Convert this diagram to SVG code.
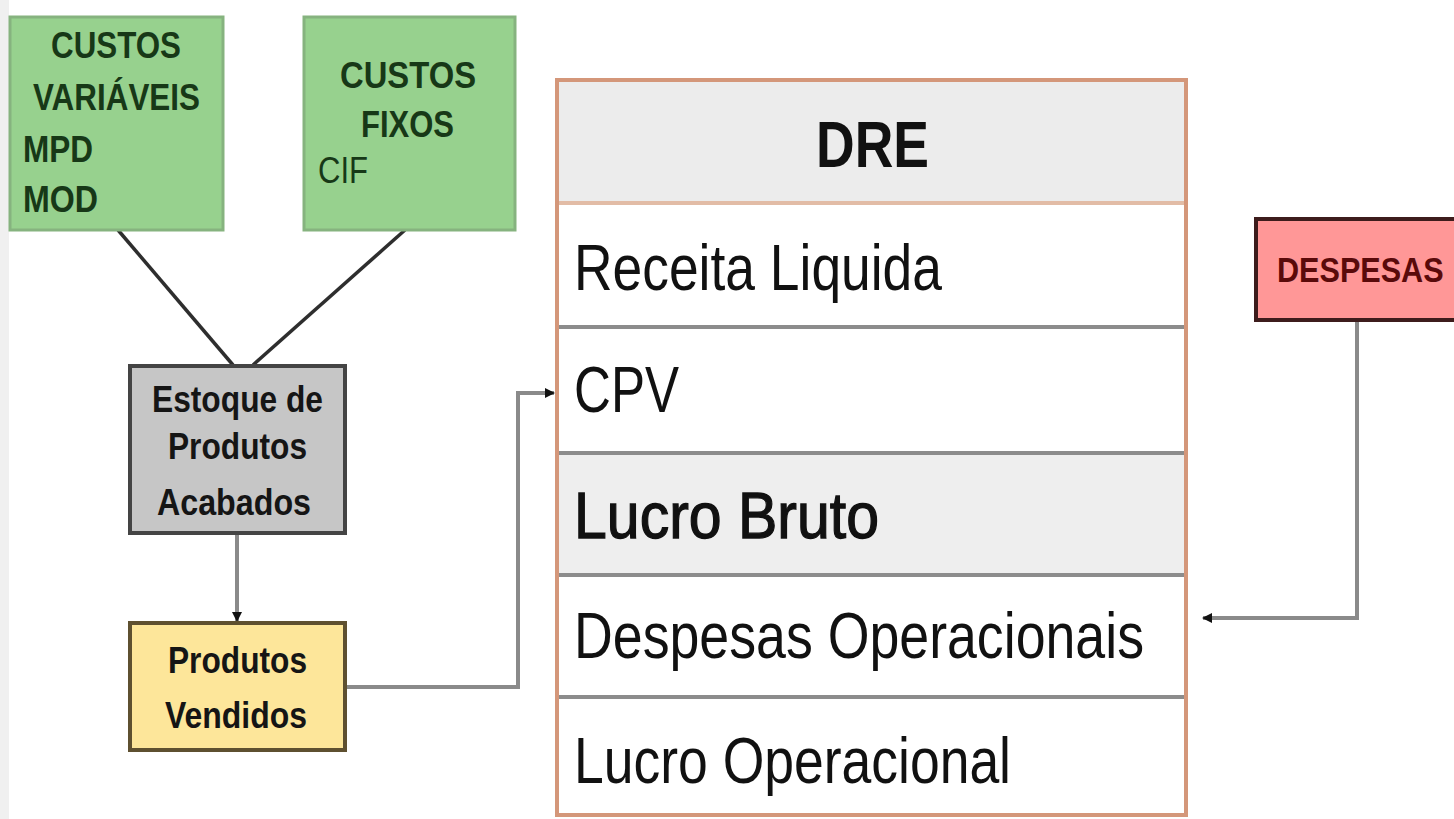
<svg xmlns="http://www.w3.org/2000/svg" width="1454" height="819" viewBox="0 0 1454 819">
<style>
.b{font-family:"Liberation Sans",Arial,sans-serif;font-weight:bold}
.r{font-family:"Liberation Sans",Arial,sans-serif}
.g{fill:#173817}
.k{fill:#151515}
.row{font-size:65px;fill:#111}
.conn{fill:none;stroke:#8a8a8a;stroke-width:4}
.diag{fill:none;stroke:#2e2e2e;stroke-width:3.5}
.sep{stroke:#8c8c8c;stroke-width:4}
</style>
<defs>
<marker id="ah" viewBox="0 0 10 10" refX="9" refY="5" markerWidth="10" markerHeight="10" markerUnits="userSpaceOnUse" orient="auto">
<path d="M0,0 L10,5 L0,10 z" fill="#111"/>
</marker>
</defs>
<rect width="1454" height="819" fill="#fff"/>
<rect x="0" y="0" width="9" height="819" fill="#f0f0f0"/>

<g id="connectors">
<path class="diag" d="M118,230 L233,365"/>
<path class="diag" d="M405,230 L253,365"/>
<path class="conn" d="M237,533 L237,621" stroke="#777" marker-end="url(#ah)"/>
<path class="conn" d="M345,687 H518 V393 H554" marker-end="url(#ah)"/>
<path class="conn" d="M1357,320 V618 H1203" marker-end="url(#ah)"/>
</g>

<g id="custos-variaveis">
<rect x="10" y="17" width="213" height="213" fill="#97d18e" stroke="#86b37f" stroke-width="3"/>
<text class="b g" x="51" y="58" font-size="37" textLength="130" lengthAdjust="spacingAndGlyphs">CUSTOS</text>
<text class="b g" x="33" y="110" font-size="37" textLength="167" lengthAdjust="spacingAndGlyphs">VARIÁVEIS</text>
<text class="b g" x="23" y="162" font-size="37" textLength="70" lengthAdjust="spacingAndGlyphs">MPD</text>
<text class="b g" x="23" y="212" font-size="37" textLength="75" lengthAdjust="spacingAndGlyphs">MOD</text>
</g>

<g id="custos-fixos">
<rect x="304" y="17" width="211" height="213" fill="#97d18e" stroke="#86b37f" stroke-width="3"/>
<text class="b g" x="340" y="88" font-size="37" textLength="136" lengthAdjust="spacingAndGlyphs">CUSTOS</text>
<text class="b g" x="361" y="137" font-size="37" textLength="93" lengthAdjust="spacingAndGlyphs">FIXOS</text>
<text class="r g" x="318" y="183" font-size="37" textLength="50" lengthAdjust="spacingAndGlyphs">CIF</text>
</g>

<g id="estoque">
<rect x="130" y="366" width="215" height="167" fill="#c6c6c6" stroke="#444" stroke-width="4"/>
<text class="b k" x="152" y="412" font-size="37" textLength="171" lengthAdjust="spacingAndGlyphs">Estoque de</text>
<text class="b k" x="168" y="459" font-size="37" textLength="139" lengthAdjust="spacingAndGlyphs">Produtos</text>
<text class="b k" x="157" y="515" font-size="37" textLength="154" lengthAdjust="spacingAndGlyphs">Acabados</text>
</g>

<g id="produtos-vendidos">
<rect x="130" y="623" width="215" height="127" fill="#fde69a" stroke="#5e5030" stroke-width="4"/>
<text class="b k" x="168" y="673" font-size="37" textLength="139" lengthAdjust="spacingAndGlyphs">Produtos</text>
<text class="b k" x="165" y="728" font-size="37" textLength="142" lengthAdjust="spacingAndGlyphs">Vendidos</text>
</g>

<g id="dre">
<rect x="557" y="80" width="629" height="123" fill="#ececec"/>
<rect x="557" y="453" width="629" height="122" fill="#eeeeee"/>
<line x1="557" y1="203" x2="1186" y2="203" stroke="#e2bca6" stroke-width="4"/>
<line class="sep" x1="557" y1="327" x2="1186" y2="327" stroke="#b8b8b8"/>
<line class="sep" x1="557" y1="453" x2="1186" y2="453"/>
<line class="sep" x1="557" y1="575" x2="1186" y2="575" stroke="#777"/>
<line class="sep" x1="557" y1="697" x2="1186" y2="697" stroke="#777"/>
<rect x="557" y="80" width="629" height="735" fill="none" stroke="#d4977a" stroke-width="4"/>
<text class="b" x="816" y="167" font-size="65" fill="#111" textLength="113" lengthAdjust="spacingAndGlyphs">DRE</text>
<text class="r row" x="574" y="290" textLength="368" lengthAdjust="spacingAndGlyphs">Receita Liquida</text>
<text class="r row" x="574" y="412" textLength="105" lengthAdjust="spacingAndGlyphs">CPV</text>
<text class="r row" x="574" y="538" stroke="#111" stroke-width="1.3" textLength="305" lengthAdjust="spacingAndGlyphs">Lucro Bruto</text>
<text class="r row" x="574" y="658" textLength="570" lengthAdjust="spacingAndGlyphs">Despesas Operacionais</text>
<text class="r row" x="574" y="783" textLength="437" lengthAdjust="spacingAndGlyphs">Lucro Operacional</text>
</g>

<g id="despesas">
<rect x="1256" y="219" width="210" height="101" fill="#ff9797" stroke="#3d1c1c" stroke-width="4"/>
<text class="b" transform="translate(1277,282) scale(0.85,1)" x="0" y="0" font-size="36" fill="#5a0a0a">DESPESAS</text>
</g>
</svg>
